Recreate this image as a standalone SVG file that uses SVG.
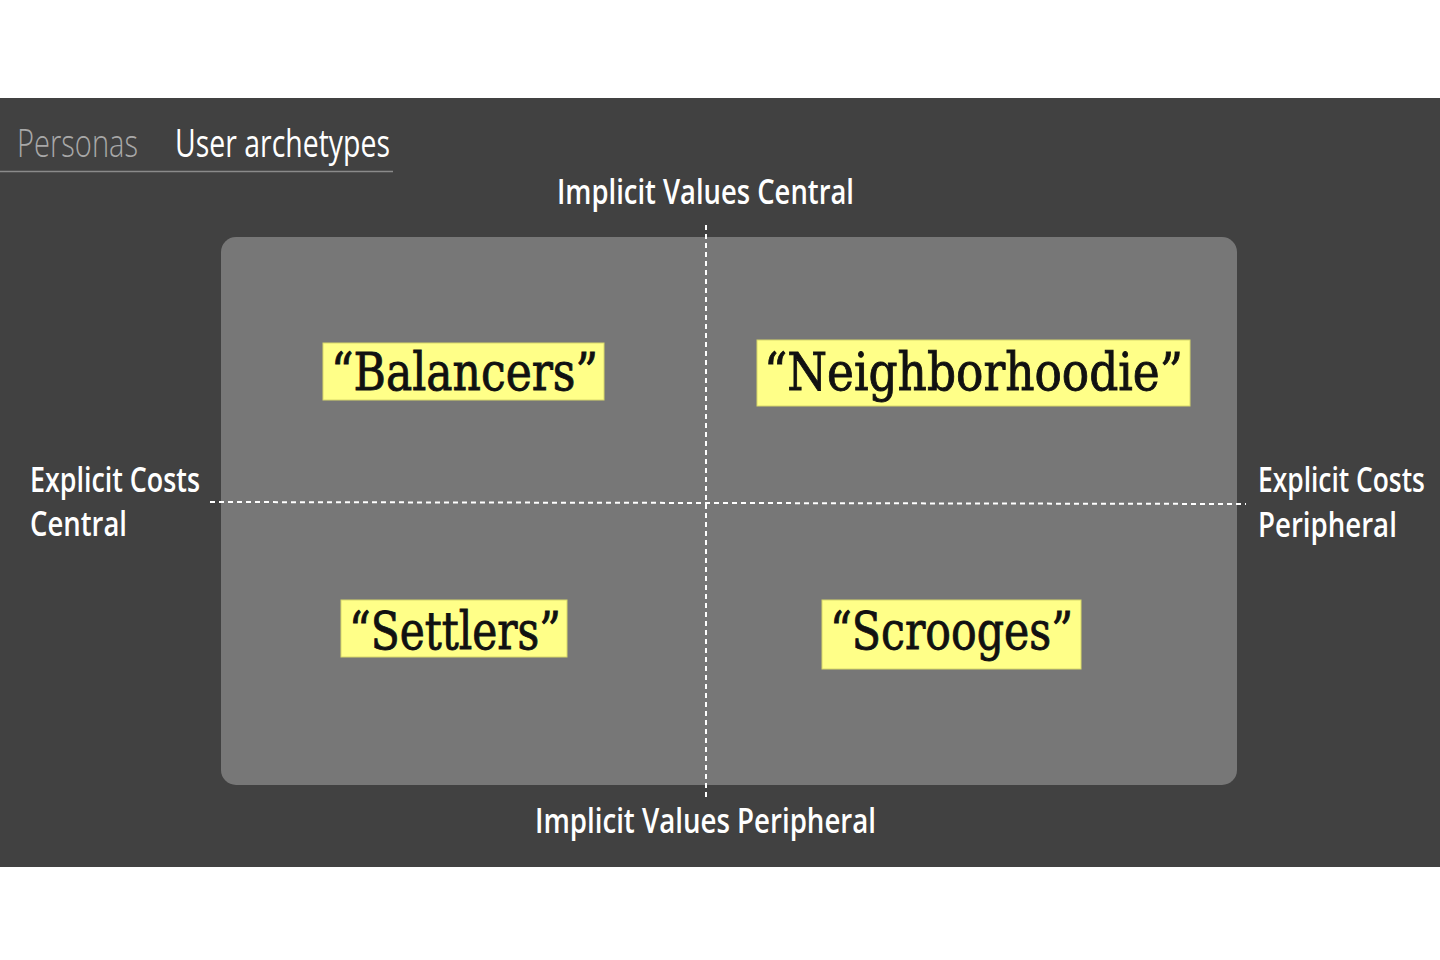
<svg xmlns="http://www.w3.org/2000/svg" width="1440" height="960" viewBox="0 0 1440 960">
  <style>
    .axis { font-family: "Open Sans", "Liberation Sans", sans-serif; font-weight: 600; font-size: 34px; fill: #ffffff; }
    .tag { fill: #ffff88; stroke: #d8d86a; stroke-width: 1; }
    .name { font-family: "DejaVu Serif", "Liberation Serif", serif; font-size: 52px; fill: #111111; stroke: #111111; stroke-width: 0.9; }
    .guide { stroke: #ffffff; stroke-width: 2; stroke-dasharray: 5 4; fill: none; }
  </style>

  <!-- page -->
  <rect x="0" y="0" width="1440" height="960" fill="#ffffff"/>
  <rect x="0" y="98" width="1440" height="769" fill="#414141"/>

  <!-- header tabs -->
  <g id="header">
    <text x="17" y="157" font-family="Open Sans, Liberation Sans, sans-serif" font-weight="300" font-size="38" fill="#a8a8a8" textLength="121" lengthAdjust="spacingAndGlyphs">Personas</text>
    <text x="175" y="157" font-family="Open Sans, Liberation Sans, sans-serif" font-size="38" fill="#ffffff" textLength="215" lengthAdjust="spacingAndGlyphs">User archetypes</text>
    <line x1="0" y1="171.5" x2="393" y2="171.5" stroke="#8a8a8a" stroke-width="1.5"/>
  </g>

  <!-- quadrant panel -->
  <rect id="panel" x="221" y="237" width="1016" height="548" rx="15" ry="15" fill="#777777"/>

  <!-- axes -->
  <g id="connectors">
    <line class="guide" x1="706" y1="225" x2="706" y2="798"/>
    <line class="guide" x1="210" y1="502" x2="1246" y2="504"/>
  </g>

  <!-- axis labels (horizontally condensed) -->
  <g id="axis-top">
    <text class="axis" x="557" y="204" textLength="297" lengthAdjust="spacingAndGlyphs">Implicit Values Central</text>
  </g>
  <g id="axis-bottom">
    <text class="axis" x="535" y="833" textLength="341" lengthAdjust="spacingAndGlyphs">Implicit Values Peripheral</text>
  </g>
  <g id="axis-left">
    <text class="axis" x="30" y="492" textLength="170" lengthAdjust="spacingAndGlyphs">Explicit Costs</text>
    <text class="axis" x="30" y="536" textLength="97" lengthAdjust="spacingAndGlyphs">Central</text>
  </g>
  <g id="axis-right" transform="translate(1258 0) scale(0.78 1)">
    <text class="axis" x="0" y="492" textLength="214" lengthAdjust="spacingAndGlyphs">Explicit Costs</text>
    <text class="axis" x="0" y="537" textLength="178" lengthAdjust="spacingAndGlyphs">Peripheral</text>
  </g>

  <!-- quadrant archetypes -->
  <g id="balancers">
    <rect class="tag" x="323" y="343" width="281" height="57"/>
    <text class="name" x="331" y="390" textLength="267" lengthAdjust="spacingAndGlyphs">“Balancers”</text>
  </g>
  <g id="neighborhoodie">
    <rect class="tag" x="757" y="340" width="433" height="66"/>
    <text class="name" x="764" y="390" textLength="419" lengthAdjust="spacingAndGlyphs">“Neighborhoodie”</text>
  </g>
  <g id="settlers">
    <rect class="tag" x="341" y="600" width="226" height="57"/>
    <text class="name" x="349" y="649" textLength="212" lengthAdjust="spacingAndGlyphs">“Settlers”</text>
  </g>
  <g id="scrooges">
    <rect class="tag" x="822" y="600" width="259" height="69"/>
    <text class="name" x="830" y="649" textLength="243" lengthAdjust="spacingAndGlyphs">“Scrooges”</text>
  </g>
</svg>
